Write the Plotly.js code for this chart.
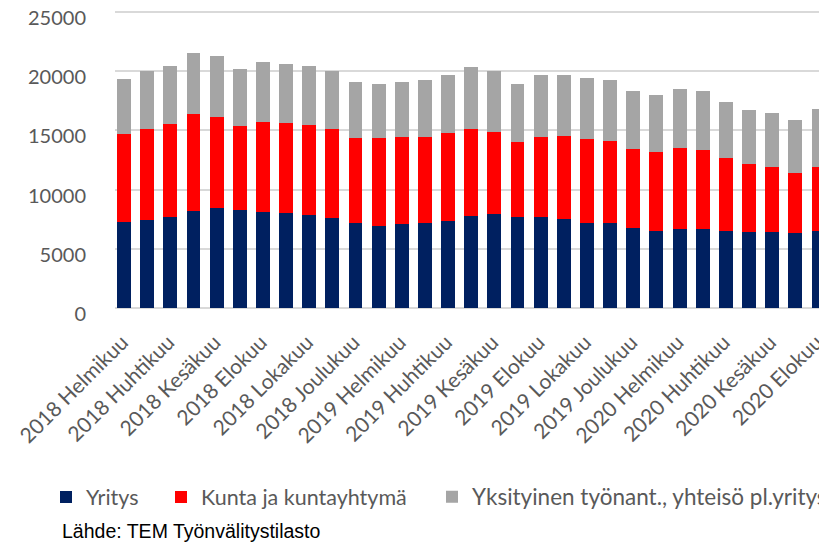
<!DOCTYPE html>
<html>
<head>
<meta charset="utf-8">
<script src="https://cdn.plot.ly/plotly-3.0.1.min.js"></script>
<style>
  html, body { margin: 0; padding: 0; overflow: hidden; background: #fff; }
  #chart { width: 900px; height: 548px; }
</style>
</head>
<body>
<div id="chart"></div>
<script>
// Categories (month labels)
const categories = [
  "2018 Helmikuu","2018 Maaliskuu","2018 Huhtikuu","2018 Toukokuu","2018 Kesäkuu","2018 Heinäkuu",
  "2018 Elokuu","2018 Syyskuu","2018 Lokakuu","2018 Marraskuu","2018 Joulukuu",
  "2019 Tammikuu","2019 Helmikuu","2019 Maaliskuu","2019 Huhtikuu","2019 Toukokuu","2019 Kesäkuu",
  "2019 Heinäkuu","2019 Elokuu","2019 Syyskuu","2019 Lokakuu","2019 Marraskuu","2019 Joulukuu",
  "2020 Tammikuu","2020 Helmikuu","2020 Maaliskuu","2020 Huhtikuu","2020 Toukokuu","2020 Kesäkuu",
  "2020 Heinäkuu","2020 Elokuu"
];

// Series values
const yritys = [7240,7440,7690,8170,8420,8230,8140,8030,7830,7610,7210,6960,7070,7210,7380,7800,
                7970,7720,7660,7470,7210,7160,6730,6540,6700,6700,6510,6390,6420,6370,6480];
const kunta  = [7460,7690,7800,8170,7720,7090,7550,7550,7610,7520,7130,7380,7320,7240,7350,7330,
                6880,6250,6760,7010,7020,6930,6650,6590,6770,6650,6110,5780,5500,5010,5410];
const yksityinen = [4650,4870,4930,5180,5160,4820,5040,5040,4980,4870,4700,4590,4680,4760,4930,5210,
                5150,4960,5210,5210,5180,5120,4960,4870,4980,4990,4730,4560,4530,4450,4870];

const seriesNames = ["Yritys", "Kunta ja kuntayhtymä", "Yksityinen työnant., yhteisö pl.yritys"];
const yTicks = [0, 5000, 10000, 15000, 20000, 25000];
const xTickLabels = categories.filter((c, i) => i % 2 === 0);
const sourceText = "Lähde: TEM Työnvälitystilasto";

const colors = ["#002060", "#ff0000", "#a5a5a5"];
const font = "Lato, 'Open Sans', sans-serif";

const traces = [
  { type: "bar", x: categories, y: yritys, name: seriesNames[0], marker: { color: colors[0] }, legend: "legend" },
  { type: "bar", x: categories, y: kunta, name: seriesNames[1], marker: { color: colors[1] }, legend: "legend2" },
  { type: "bar", x: categories, y: yksityinen, name: seriesNames[2], marker: { color: colors[2] }, legend: "legend3" }
];

const legendBase = {
  orientation: "h", xref: "container", yref: "container",
  xanchor: "left", yanchor: "middle",
  font: { family: font, size: 21.5, color: "#595959" },
  bgcolor: "rgba(0,0,0,0)", borderwidth: 0
};
const legendY = (548 - 497) / 548;

const layout = {
  width: 900, height: 548,
  margin: { l: 115, r: 10, t: 7, b: 240, pad: 0 },
  barmode: "stack",
  bargap: 0.4,
  paper_bgcolor: "#fff",
  plot_bgcolor: "#fff",
  font: { family: font, size: 20, color: "#595959" },
  xaxis: {
    type: "category",
    range: [-0.39, 33.09],
    tickmode: "array",
    tickvals: xTickLabels,
    ticktext: xTickLabels,
    tickangle: -45,
    showgrid: false,
    showline: false,
    ticks: "",
    ticklabelstandoff: 17,
    ticklabelshift: -2,
    tickfont: { family: font, size: 21, color: "#595959" }
  },
  yaxis: {
    range: [0, 25400],
    tickmode: "array",
    tickvals: yTicks,
    tickformat: "d",
    showgrid: true,
    gridcolor: "#d9d9d9",
    gridwidth: 2,
    zeroline: true,
    zerolinecolor: "#d9d9d9",
    zerolinewidth: 2,
    showline: false,
    ticks: "",
    ticklabelstandoff: 28,
    ticklabelshift: 6,
    tickfont: { family: font, size: 20, color: "#595959" }
  },
  showlegend: true,
  legend: Object.assign({}, legendBase, { x: 46 / 900, y: legendY }),
  legend2: Object.assign({}, legendBase, { x: 161 / 900, y: legendY }),
  legend3: Object.assign({}, legendBase, { x: 432 / 900, y: legendY,
    font: { family: font, size: 22.5, color: "#595959" } }),
  annotations: [{
    text: sourceText,
    xref: "paper", yref: "paper",
    x: (60 - 115) / 775, y: (308 - 531) / 301,
    xanchor: "left", yanchor: "middle",
    showarrow: false,
    font: { family: "'Liberation Sans', Arial, sans-serif", size: 19.5, color: "#000" }
  }]
};

Plotly.newPlot("chart", traces, layout, { displayModeBar: false, staticPlot: true });
</script>
</body>
</html>
